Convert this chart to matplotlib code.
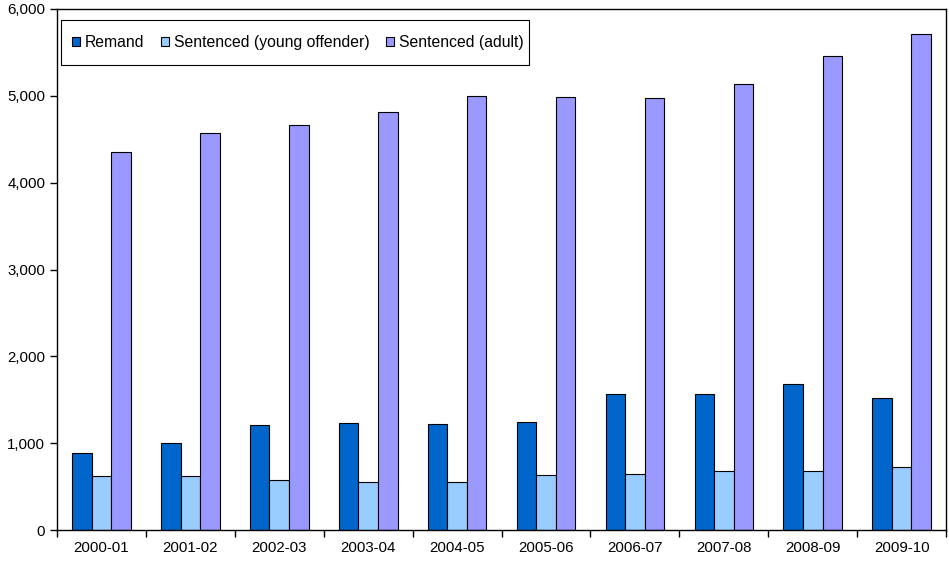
import matplotlib
matplotlib.use("Agg")
import matplotlib.pyplot as plt
import numpy as np
from matplotlib.ticker import FuncFormatter, FixedLocator
from matplotlib.patches import Rectangle

plt.rcParams['font.family'] = ['Liberation Sans', 'DejaVu Sans']

categories = ["2000-01", "2001-02", "2002-03", "2003-04", "2004-05",
              "2005-06", "2006-07", "2007-08", "2008-09", "2009-10"]
remand = [885, 1000, 1210, 1235, 1220, 1245, 1565, 1565, 1680, 1520]
young = [620, 620, 575, 550, 550, 630, 645, 680, 680, 725]
adult = [4355, 4575, 4665, 4815, 5000, 4990, 4975, 5135, 5460, 5715]
series_names = ["Remand", "Sentenced (young offender)", "Sentenced (adult)"]
colors = ["#0066CC", "#99CCFF", "#9999FF"]

W, H = 949, 561
fig = plt.figure(figsize=(W / 100, H / 100), dpi=100)
ax = fig.add_axes([0.060, 0.055, 0.937, 0.929])

x = np.arange(len(categories))
w = 0.22
for i, (vals, name, c) in enumerate(zip([remand, young, adult], series_names, colors)):
    ax.bar(x + (i - 1) * w, vals, width=w, color=c, edgecolor="black",
           linewidth=0.8, label=name, zorder=2)

ax.set_xlim(-0.5, len(categories) - 0.5)
ax.set_ylim(0, 6000)
ax.set_yticks(np.arange(0, 6001, 1000))
ax.yaxis.set_major_formatter(FuncFormatter(lambda v, p: f"{int(v):,}"))
ax.set_xticks(x)
ax.set_xticklabels(categories)
ax.xaxis.set_minor_locator(FixedLocator(np.arange(-0.5, len(categories), 1.0)))
ax.tick_params(axis='x', which='major', length=0, pad=8, labelsize=10.8)
ax.tick_params(axis='x', which='minor', length=5, width=1, direction='out')
ax.tick_params(axis='y', length=5, width=1, direction='out', labelsize=10.8)
for s in ax.spines.values():
    s.set_linewidth(1.0)
    s.set_color("black")

# legend without its own frame; a box is drawn around it afterwards
leg = fig.legend(loc='center left', bbox_to_anchor=(72 / W, 1 - 42.5 / H),
                 bbox_transform=fig.transFigure, ncol=3,
                 frameon=False, fontsize=11.3, handlelength=0.5,
                 handleheight=0.5, handletextpad=0.3, columnspacing=1.08,
                 borderpad=0, borderaxespad=0)
fig.canvas.draw()
bb = leg.get_window_extent()
x0 = bb.x0 - 11
x1 = bb.x1 + 6
yc = (bb.y0 + bb.y1) / 2
y0, y1 = yc - 22.5, yc + 22.5
box = Rectangle((x0 / W, y0 / H), (x1 - x0) / W, (y1 - y0) / H,
                transform=fig.transFigure, facecolor="white",
                edgecolor="black", linewidth=0.8, zorder=4)
fig.add_artist(box)
leg.set_zorder(5)

fig.savefig("out.png", dpi=100)
